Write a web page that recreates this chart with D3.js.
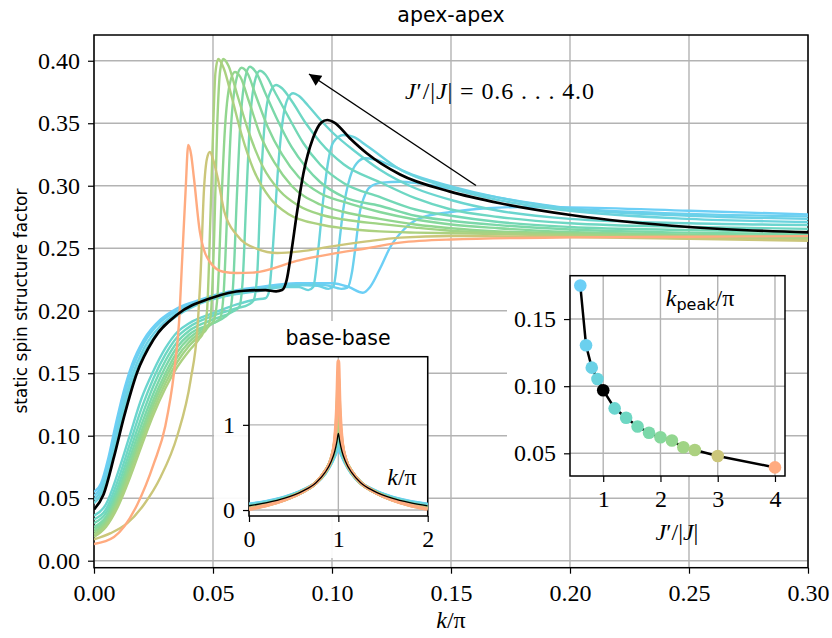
<!DOCTYPE html>
<html><head><meta charset="utf-8">
<script src="https://cdn.jsdelivr.net/npm/d3@7"></script>
<style>body{margin:0;background:#fff}svg{display:block}</style>
</head><body>
<svg id="c" width="832" height="638"></svg>
<script>
// ---------------- data ----------------
const jValues = [0.6,0.7,0.8,0.9,1.0,1.2,1.4,1.6,1.8,2.0,2.2,2.4,2.6,3.0,4.0];
const kPeak   = [0.175,0.1305,0.1138,0.1053,0.097,0.0835,0.0765,0.070,0.0653,0.062,0.0595,0.0545,0.0525,0.048,0.0395];
const curveColors = ["#6ccff6","#6bd0ee","#6ad1e6","#6ad3dd","#000000","#6bd5cf","#6ed7c3","#73d8b6","#7bd8a9","#86d89c","#92d68f","#a0d485","#acd180","#cbc67a","#ffab80"];

const S06=[[0,0.055],[0.003,0.062],[0.006,0.082],[0.009,0.108],[0.012,0.132],[0.016,0.157],[0.021,0.177],[0.028,0.193],[0.035,0.202],[0.045,0.209],[0.056,0.215],[0.07,0.219],[0.085,0.222],[0.1,0.222],[0.107,0.219],[0.113,0.2144],[0.116,0.219],[0.1205,0.235],[0.1245,0.251],[0.13,0.2646],[0.137,0.274],[0.15,0.279],[0.165,0.282],[0.18,0.283],[0.2,0.2827],[0.25,0.28],[0.3,0.277]];
const S07=[[0,0.052],[0.003,0.059],[0.006,0.077],[0.009,0.102],[0.012,0.127],[0.016,0.153],[0.021,0.174],[0.028,0.191],[0.035,0.2],[0.045,0.208],[0.056,0.214],[0.07,0.218],[0.085,0.221],[0.097,0.2205],[0.104,0.2175],[0.1065,0.2185],[0.1085,0.232],[0.1097,0.2486],[0.1118,0.28],[0.1135,0.291],[0.116,0.299],[0.121,0.3025],[0.1286,0.3032],[0.136,0.302],[0.15,0.2975],[0.17,0.2905],[0.2,0.282],[0.25,0.2775],[0.3,0.2755]];
const S08=[[0,0.049],[0.003,0.056],[0.006,0.072],[0.009,0.096],[0.012,0.121],[0.016,0.148],[0.021,0.17],[0.028,0.188],[0.035,0.198],[0.045,0.207],[0.056,0.213],[0.07,0.217],[0.085,0.2205],[0.094,0.22],[0.0985,0.2175],[0.1006,0.2195],[0.1027,0.2486],[0.1047,0.2806],[0.1076,0.307],[0.1104,0.318],[0.1139,0.322],[0.118,0.321],[0.125,0.316],[0.135,0.308],[0.15,0.2995],[0.17,0.2905],[0.2,0.2815],[0.25,0.276],[0.3,0.2735]];
const S09=[[0,0.046],[0.003,0.053],[0.006,0.068],[0.009,0.091],[0.012,0.116],[0.016,0.143],[0.021,0.166],[0.028,0.185],[0.035,0.196],[0.045,0.206],[0.056,0.212],[0.07,0.216],[0.08,0.219],[0.086,0.219],[0.09,0.2165],[0.0921,0.219],[0.0942,0.2486],[0.0963,0.2886],[0.0985,0.3206],[0.1006,0.335],[0.1048,0.3406],[0.109,0.339],[0.1146,0.332],[0.1286,0.313],[0.15,0.298],[0.17,0.2885],[0.2,0.28],[0.25,0.2735],[0.3,0.271]];
const S10=[[0,0.041],[0.004,0.053],[0.0084,0.083],[0.0126,0.115],[0.018,0.15],[0.025,0.177],[0.035,0.197],[0.049,0.21],[0.063,0.216],[0.072,0.2165],[0.0765,0.2155],[0.079,0.2165],[0.081,0.225],[0.0826,0.243],[0.0854,0.28],[0.088,0.31],[0.092,0.338],[0.0955,0.3505],[0.098,0.3526],[0.101,0.3505],[0.1075,0.338],[0.1146,0.326],[0.1286,0.309],[0.1496,0.2953],[0.1706,0.286],[0.2003,0.2766],[0.25,0.267],[0.3,0.2627]];
const S12=[[0,0.036],[0.005,0.045],[0.01,0.07],[0.015,0.1],[0.02,0.13],[0.025,0.152],[0.03,0.17],[0.035,0.183],[0.04,0.19],[0.05,0.198],[0.06,0.205],[0.068,0.209],[0.072,0.21],[0.0735,0.215],[0.0747,0.238],[0.0761,0.278],[0.0775,0.318],[0.0795,0.355],[0.0815,0.37],[0.0837,0.374],[0.086,0.372],[0.09,0.364],[0.095,0.353],[0.1,0.343],[0.11,0.327],[0.12,0.313],[0.135,0.298],[0.15,0.2886],[0.17,0.28],[0.2,0.2735],[0.25,0.27],[0.3,0.2686]];
const S14=[[0,0.033],[0.005,0.041],[0.01,0.064],[0.015,0.093],[0.02,0.122],[0.025,0.146],[0.03,0.165],[0.035,0.179],[0.04,0.187],[0.05,0.196],[0.06,0.202],[0.065,0.205],[0.067,0.208],[0.0686,0.23],[0.07,0.297],[0.0715,0.345],[0.0735,0.372],[0.0765,0.3806],[0.079,0.378],[0.083,0.368],[0.089,0.35],[0.095,0.335],[0.105,0.317],[0.12,0.303],[0.135,0.29],[0.15,0.281],[0.17,0.275],[0.2,0.27],[0.25,0.267],[0.3,0.2655]];
const S16=[[0,0.030],[0.005,0.038],[0.01,0.059],[0.015,0.087],[0.02,0.115],[0.025,0.14],[0.03,0.16],[0.035,0.175],[0.04,0.184],[0.05,0.193],[0.058,0.199],[0.061,0.203],[0.0625,0.225],[0.064,0.29],[0.0655,0.35],[0.0675,0.383],[0.0697,0.392],[0.072,0.389],[0.076,0.375],[0.082,0.354],[0.088,0.334],[0.095,0.317],[0.105,0.302],[0.12,0.291],[0.135,0.281],[0.15,0.276],[0.17,0.271],[0.2,0.267],[0.25,0.2645],[0.3,0.263]];
const S18=[[0,0.027],[0.005,0.035],[0.01,0.055],[0.015,0.082],[0.02,0.109],[0.025,0.134],[0.03,0.155],[0.035,0.171],[0.04,0.181],[0.05,0.19],[0.055,0.195],[0.057,0.199],[0.0585,0.222],[0.06,0.29],[0.0615,0.35],[0.0635,0.386],[0.0655,0.3952],[0.068,0.391],[0.072,0.374],[0.077,0.353],[0.083,0.331],[0.089,0.315],[0.095,0.303],[0.105,0.291],[0.12,0.284],[0.135,0.276],[0.15,0.272],[0.17,0.2685],[0.2,0.265],[0.25,0.2625],[0.3,0.261]];
const S20=[[0,0.025],[0.005,0.033],[0.01,0.052],[0.015,0.078],[0.02,0.104],[0.025,0.129],[0.03,0.15],[0.035,0.167],[0.04,0.178],[0.045,0.185],[0.05,0.19],[0.053,0.194],[0.0545,0.215],[0.056,0.28],[0.0575,0.345],[0.0598,0.385],[0.062,0.3944],[0.0645,0.39],[0.068,0.372],[0.073,0.347],[0.079,0.325],[0.086,0.307],[0.095,0.294],[0.105,0.287],[0.12,0.279],[0.135,0.273],[0.15,0.269],[0.17,0.266],[0.2,0.263],[0.25,0.261],[0.3,0.2595]];
const S22=[[0,0.023],[0.005,0.031],[0.01,0.049],[0.015,0.074],[0.02,0.1],[0.025,0.125],[0.03,0.146],[0.035,0.163],[0.04,0.175],[0.045,0.183],[0.049,0.189],[0.0505,0.193],[0.052,0.215],[0.0535,0.285],[0.055,0.345],[0.057,0.381],[0.0592,0.391],[0.0615,0.387],[0.065,0.368],[0.07,0.34],[0.076,0.318],[0.083,0.3],[0.095,0.285],[0.105,0.279],[0.12,0.2735],[0.135,0.269],[0.15,0.266],[0.17,0.2635],[0.2,0.262],[0.25,0.26],[0.3,0.2585]];
const S24=[[0,0.021],[0.005,0.029],[0.01,0.046],[0.015,0.07],[0.02,0.096],[0.025,0.121],[0.03,0.142],[0.035,0.159],[0.04,0.172],[0.045,0.181],[0.0475,0.186],[0.049,0.195],[0.0505,0.26],[0.0518,0.35],[0.053,0.392],[0.0543,0.4014],[0.0565,0.396],[0.06,0.374],[0.065,0.343],[0.071,0.315],[0.078,0.296],[0.086,0.284],[0.095,0.277],[0.105,0.273],[0.12,0.2695],[0.135,0.2665],[0.15,0.264],[0.17,0.2625],[0.2,0.261],[0.25,0.259],[0.3,0.2575]];
const S26=[[0,0.019],[0.005,0.027],[0.01,0.043],[0.015,0.066],[0.02,0.092],[0.025,0.117],[0.03,0.138],[0.035,0.155],[0.04,0.168],[0.044,0.177],[0.046,0.183],[0.0475,0.2],[0.049,0.28],[0.0503,0.36],[0.051,0.39],[0.0522,0.4014],[0.0545,0.394],[0.058,0.37],[0.062,0.341],[0.067,0.313],[0.074,0.29],[0.082,0.277],[0.095,0.269],[0.105,0.266],[0.12,0.2635],[0.135,0.2625],[0.15,0.262],[0.17,0.2613],[0.2,0.26],[0.25,0.258],[0.3,0.257]];
const S30=[[0,0.017],[0.007,0.022],[0.014,0.03],[0.021,0.045],[0.028,0.067],[0.035,0.1],[0.0406,0.1446],[0.0434,0.1846],[0.0448,0.23],[0.0462,0.2966],[0.0475,0.322],[0.0487,0.327],[0.0502,0.32],[0.052,0.306],[0.0548,0.279],[0.06,0.2606],[0.0685,0.2495],[0.077,0.2462],[0.0866,0.2475],[0.1,0.2515],[0.1146,0.2555],[0.1286,0.2585],[0.15,0.2598],[0.2,0.259],[0.25,0.2575],[0.3,0.256]];
const S40=[[0,0.0134],[0.0084,0.019],[0.0182,0.045],[0.0252,0.078],[0.03,0.108],[0.0336,0.15],[0.0357,0.19],[0.0371,0.243],[0.0385,0.2966],[0.0396,0.3326],[0.0408,0.325],[0.042,0.306],[0.0445,0.263],[0.0487,0.239],[0.0543,0.2312],[0.06,0.2302],[0.0667,0.2305],[0.0866,0.2405],[0.1,0.2455],[0.1146,0.25],[0.1286,0.2545],[0.15,0.257],[0.2,0.2587],[0.25,0.2592],[0.3,0.2597]];
const apexSeries=[S06,S07,S08,S09,S10,S12,S14,S16,S18,S20,S22,S24,S26,S30,S40];

const baseK=[0,0.2,0.4,0.6,0.75,0.85,0.92,0.96,0.985,1,1.015,1.04,1.08,1.15,1.25,1.4,1.6,1.8,2];
const B06=[0.067,0.10,0.15,0.23,0.32,0.43,0.55,0.64,0.70,0.74,0.70,0.64,0.55,0.43,0.32,0.23,0.15,0.10,0.067];
const B07=[0.063,0.097,0.148,0.228,0.32,0.432,0.555,0.65,0.72,0.77,0.72,0.65,0.555,0.432,0.32,0.228,0.148,0.097,0.063];
const B08=[0.059,0.094,0.145,0.226,0.32,0.434,0.56,0.66,0.75,0.81,0.75,0.66,0.56,0.434,0.32,0.226,0.145,0.094,0.059];
const B09=[0.055,0.09,0.142,0.224,0.32,0.436,0.565,0.675,0.78,0.85,0.78,0.675,0.565,0.436,0.32,0.224,0.142,0.09,0.055];
const B10=[0.05,0.086,0.139,0.222,0.32,0.438,0.57,0.69,0.81,0.9,0.81,0.69,0.57,0.438,0.32,0.222,0.139,0.086,0.05];
const B12=[0.045,0.081,0.135,0.22,0.32,0.44,0.575,0.70,0.84,0.98,0.84,0.70,0.575,0.44,0.32,0.22,0.135,0.081,0.045];
const B14=[0.04,0.077,0.132,0.219,0.32,0.442,0.58,0.715,0.87,1.06,0.87,0.715,0.58,0.442,0.32,0.219,0.132,0.077,0.04];
const B16=[0.036,0.073,0.13,0.218,0.32,0.444,0.585,0.73,0.9,1.14,0.9,0.73,0.585,0.444,0.32,0.218,0.13,0.073,0.036];
const B18=[0.032,0.07,0.128,0.217,0.32,0.445,0.588,0.745,0.93,1.21,0.93,0.745,0.588,0.445,0.32,0.217,0.128,0.07,0.032];
const B20=[0.029,0.067,0.126,0.216,0.32,0.446,0.59,0.755,0.96,1.28,0.96,0.755,0.59,0.446,0.32,0.216,0.126,0.067,0.029];
const B22=[0.026,0.064,0.125,0.216,0.32,0.447,0.592,0.765,0.99,1.34,0.99,0.765,0.592,0.447,0.32,0.216,0.125,0.064,0.026];
const B24=[0.023,0.062,0.124,0.215,0.32,0.448,0.594,0.775,1.02,1.4,1.02,0.775,0.594,0.448,0.32,0.215,0.124,0.062,0.023];
const B26=[0.021,0.06,0.123,0.215,0.32,0.449,0.596,0.785,1.05,1.45,1.05,0.785,0.596,0.449,0.32,0.215,0.123,0.06,0.021];
const B30=[0.017,0.057,0.122,0.215,0.32,0.45,0.598,0.8,1.12,1.55,1.12,0.8,0.598,0.45,0.32,0.215,0.122,0.057,0.017];
const B40=[0.01,0.055,0.12,0.215,0.32,0.45,0.6,0.82,1.25,1.75,1.25,0.82,0.6,0.45,0.32,0.215,0.12,0.055,0.01];
const baseSeries=[B06,B07,B08,B09,B10,B12,B14,B16,B18,B20,B22,B24,B26,B30,B40];

const mainXTicks=[0,0.05,0.10,0.15,0.20,0.25,0.30];
const mainYTicks=[0,0.05,0.10,0.15,0.20,0.25,0.30,0.35,0.40];
const baseXTicks=[0,1,2], baseYTicks=[0,1];
const peakXTicks=[1,2,3,4], peakYTicks=[0.05,0.10,0.15];

// ---------------- drawing ----------------
const svg=d3.select("#c");
const SERIF='"Liberation Serif","DejaVu Serif",serif';
const SANS='"DejaVu Sans","Noto Sans",sans-serif';
const GRID="#b3b3b3";
const TFS=24;
svg.append("rect").attr("width",832).attr("height",638).attr("fill","#fff");

function axesFrame(g,x,y,xt,yt){
  const [x0,x1]=x.range(), [y0,y1]=y.range();
  g.append("rect").attr("x",x0).attr("y",y1).attr("width",x1-x0).attr("height",y0-y1).attr("fill","#fff");
  const grid=g.append("g").attr("stroke",GRID).attr("stroke-width",1.4);
  xt.forEach(t=>grid.append("line").attr("x1",x(t)).attr("x2",x(t)).attr("y1",y0).attr("y2",y1));
  yt.forEach(t=>grid.append("line").attr("x1",x0).attr("x2",x1).attr("y1",y(t)).attr("y2",y(t)));
}
function axesDecor(g,x,y,xt,yt,fmtX,fmtY,fs,xpad,ypad){
  const [x0,x1]=x.range(), [y0,y1]=y.range();
  g.append("rect").attr("x",x0).attr("y",y1).attr("width",x1-x0).attr("height",y0-y1)
   .attr("fill","none").attr("stroke","#000").attr("stroke-width",1.5);
  const ax=g.append("g").attr("transform",`translate(0,${y0})`)
    .call(d3.axisBottom(x).tickValues(xt).tickFormat(fmtX).tickSize(6).tickPadding(xpad));
  const ay=g.append("g").attr("transform",`translate(${x0},0)`)
    .call(d3.axisLeft(y).tickValues(yt).tickFormat(fmtY).tickSize(6).tickPadding(ypad));
  [ax,ay].forEach(a=>{a.select(".domain").remove();
    a.selectAll("line").attr("stroke","#000").attr("stroke-width",1.2);
    a.selectAll("text").attr("font-family",SERIF).attr("font-size",fs).attr("fill","#000");});
}

// main axes
const x=d3.scaleLinear([0,0.30],[94,808]);
const y=d3.scaleLinear([-0.0056,0.4206],[567.7,35]);
const gm=svg.append("g");
axesFrame(gm,x,y,mainXTicks,mainYTicks);
svg.append("clipPath").attr("id","clipMain").append("rect").attr("x",94).attr("y",35).attr("width",714).attr("height",532.7);
const line=d3.line().x(d=>x(d[0])).y(d=>y(d[1])).curve(d3.curveMonotoneX);
const gc=svg.append("g").attr("clip-path","url(#clipMain)");
const order=d3.range(jValues.length).filter(i=>jValues[i]!==1.0).concat([jValues.indexOf(1.0)]);
order.forEach(i=>{
  gc.append("path").attr("d",line(apexSeries[i])).attr("fill","none")
    .attr("stroke",curveColors[i]).attr("stroke-width",jValues[i]===1.0?2.7:2.4).attr("stroke-linejoin","round");
});
axesDecor(gm,x,y,mainXTicks,mainYTicks,d3.format(".2f"),d3.format(".2f"),TFS,10,8);

// titles and labels
svg.append("text").attr("x",451).attr("y",22).attr("text-anchor","middle").attr("font-family",SANS)
  .attr("font-size",20.5).text("apex-apex");
svg.append("text").attr("transform","translate(21,301) rotate(-90)").attr("text-anchor","middle")
  .attr("dominant-baseline","central")
  .attr("font-family",SANS).attr("font-size",17).text("static spin structure factor");
const xl=svg.append("text").attr("x",451).attr("y",628).attr("text-anchor","middle").attr("font-family",SERIF).attr("font-size",TFS);
xl.append("tspan").attr("font-style","italic").text("k");
xl.append("tspan").text("/π");

// annotation arrow
const defs=svg.append("defs");
defs.append("marker").attr("id","ah").attr("viewBox","0 0 10 10").attr("refX",10).attr("refY",5)
  .attr("markerWidth",17).attr("markerHeight",12).attr("markerUnits","userSpaceOnUse").attr("orient","auto")
  .append("path").attr("d","M0,0 L10,5 L0,10 z").attr("fill","#000");
svg.append("line").attr("x1",476).attr("y1",185.5).attr("x2",309).attr("y2",74)
  .attr("stroke","#000").attr("stroke-width",1.5).attr("marker-end","url(#ah)");
const at=svg.append("text").attr("x",405).attr("y",99).attr("font-family",SERIF).attr("font-size",TFS)
  .attr("textLength",189).attr("lengthAdjust","spacing");
at.append("tspan").attr("font-style","italic").text("J");
at.append("tspan").text("′/|");
at.append("tspan").attr("font-style","italic").text("J");
at.append("tspan").text("| = 0.6 . . . 4.0");

// ---------- inset: base-base ----------
const xb=d3.scaleLinear([0,2],[249,427.7]);
const yb=d3.scaleLinear([-0.07,1.80],[516,356.7]);
svg.append("rect").attr("x",214).attr("y",382).attr("width",36).attr("height",140).attr("fill","#fff").attr("opacity",0.92);
svg.append("rect").attr("x",214).attr("y",516).attr("width",226).attr("height",42).attr("fill","#fff").attr("opacity",0.92);
svg.append("rect").attr("x",278).attr("y",321).attr("width",120).attr("height",36).attr("fill","#fff");
const gb=svg.append("g");
axesFrame(gb,xb,yb,baseXTicks,baseYTicks);
svg.append("clipPath").attr("id","clipB").append("rect").attr("x",249).attr("y",356.7).attr("width",178.7).attr("height",159.3);
const gbc=svg.append("g").attr("clip-path","url(#clipB)");
const lineB=d3.line().x((d,i)=>xb(baseK[i])).y(d=>yb(d)).curve(d3.curveMonotoneX);
order.forEach(i=>{
  gbc.append("path").attr("d",lineB(baseSeries[i])).attr("fill","none")
   .attr("stroke",curveColors[i]).attr("stroke-width",jValues[i]===1.0?1.3:3.6).attr("stroke-linejoin","round");
});
axesDecor(gb,xb,yb,baseXTicks,baseYTicks,d3.format("d"),d3.format("d"),TFS,8,8);
svg.append("text").attr("x",338).attr("y",345).attr("text-anchor","middle").attr("font-family",SANS)
  .attr("font-size",20.5).text("base-base");
const bl=svg.append("text").attr("x",402).attr("y",485).attr("text-anchor","middle").attr("font-family",SERIF).attr("font-size",TFS);
bl.append("tspan").attr("font-style","italic").text("k");
bl.append("tspan").text("/π");

// ---------- inset: k_peak ----------
const xp=d3.scaleLinear([0.42,4.175],[570,785]);
const yp=d3.scaleLinear([0.0331,0.1823],[476,275.7]);
svg.append("rect").attr("x",507).attr("y",275).attr("width",66).attr("height",204).attr("fill","#fff");
const gp=svg.append("g");
axesFrame(gp,xp,yp,peakXTicks,peakYTicks);
const peakData=jValues.map((j,i)=>[j,kPeak[i]]);
gp.append("path").attr("d",d3.line().x(d=>xp(d[0])).y(d=>yp(d[1]))(peakData))
  .attr("fill","none").attr("stroke","#000").attr("stroke-width",2.5);
gp.selectAll("circle.pk").data(peakData).join("circle").attr("class","pk")
  .attr("cx",d=>xp(d[0])).attr("cy",d=>yp(d[1])).attr("r",6.3)
  .attr("fill",(d,i)=>curveColors[i]);
axesDecor(gp,xp,yp,peakXTicks,peakYTicks,d3.format("d"),d3.format(".2f"),TFS,8,8);
const pl=svg.append("text").attr("x",700).attr("y",306).attr("text-anchor","middle").attr("font-family",SERIF).attr("font-size",TFS);
pl.append("tspan").attr("font-style","italic").text("k");
pl.append("tspan").attr("font-family",SANS).attr("font-size",16).attr("dy",4).text("peak");
pl.append("tspan").attr("dy",-4).text("/π");
const jl=svg.append("text").attr("x",677).attr("y",540).attr("text-anchor","middle").attr("font-family",SERIF).attr("font-size",TFS);
jl.append("tspan").attr("font-style","italic").text("J");
jl.append("tspan").text("′/|");
jl.append("tspan").attr("font-style","italic").text("J");
jl.append("tspan").text("|");
</script>
</body></html>
